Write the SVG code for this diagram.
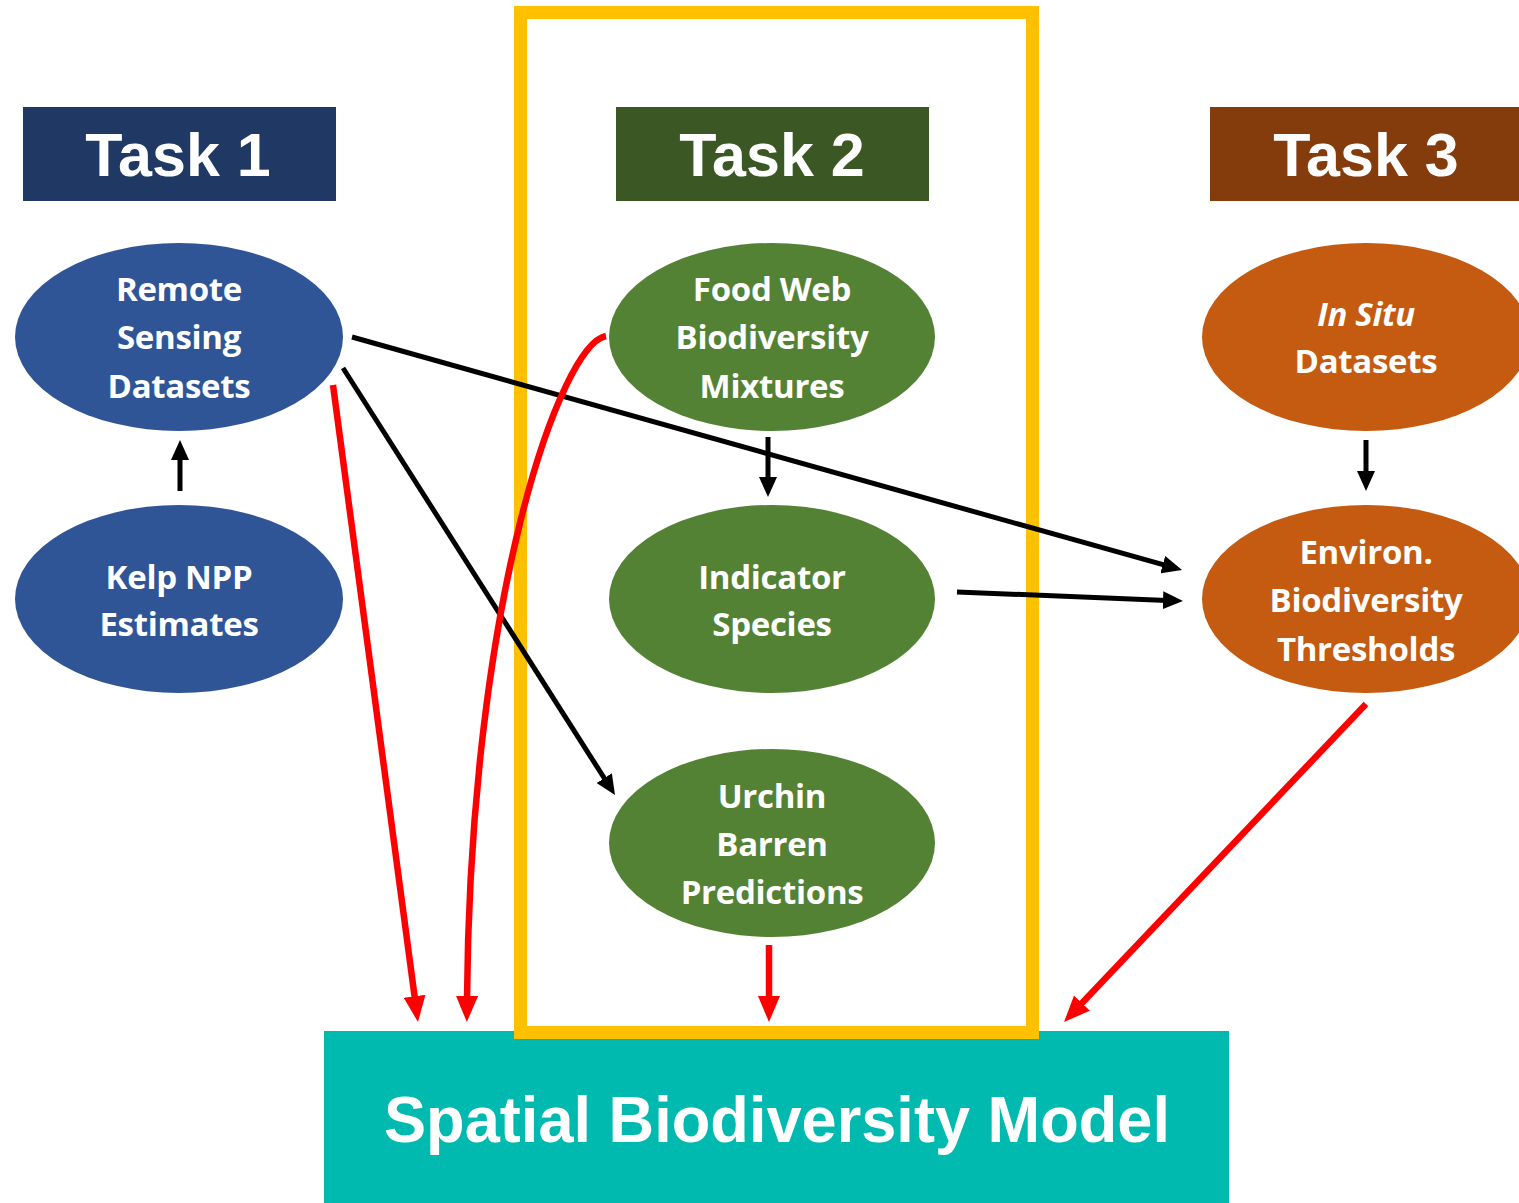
<svg xmlns="http://www.w3.org/2000/svg" width="1519" height="1203" viewBox="0 0 1519 1203">
  <style>
    .hdr { font-family: "Liberation Sans", Arial, sans-serif; font-weight: bold; font-size: 61px; fill: #fff; text-anchor: middle; }
    .lbl { font-family: "Open Sans", "Liberation Sans", sans-serif; font-weight: bold; font-size: 33px; fill: #fff; text-anchor: middle; letter-spacing: -0.3px; }
    .blue { fill: #2F5597; }
    .green { fill: #548235; }
    .orange { fill: #C55A11; }
    .blk { stroke: #000; stroke-width: 5; fill: none; marker-end: url(#ahBlack); }
    .red { stroke: #FF0000; stroke-width: 6.5; fill: none; marker-end: url(#ahRed); }
  </style>
  <defs>
    <marker id="ahBlack" markerUnits="userSpaceOnUse" markerWidth="20" markerHeight="18" refX="4" refY="9" orient="auto">
      <path d="M0,0 L20,9 L0,18 z" fill="#000"/>
    </marker>
    <marker id="ahRed" markerUnits="userSpaceOnUse" markerWidth="26" markerHeight="22" refX="4" refY="11" orient="auto">
      <path d="M0,0 L26,11 L0,22 z" fill="#FF0000"/>
    </marker>
  </defs>

  <rect width="1519" height="1203" fill="#fff"/>

  <!-- output model box -->
  <g id="model">
    <rect x="324" y="1031" width="905" height="172" fill="#00BAB0"/>
    <text x="777" y="1142" font-family="'Liberation Sans', Arial, sans-serif" font-weight="bold" font-size="64" fill="#fff" text-anchor="middle" textLength="786" lengthAdjust="spacingAndGlyphs">Spatial Biodiversity Model</text>
  </g>

  <!-- Task 2 highlight frame -->
  <rect id="task2-frame" x="520.5" y="12.5" width="512" height="1020" fill="none" stroke="#FFC000" stroke-width="13"/>

  <!-- task headers -->
  <g id="task1">
    <rect x="23" y="107" width="313" height="94" fill="#1F3864"/>
    <text class="hdr" x="178" y="176">Task 1</text>
  </g>
  <g id="task2">
    <rect x="616" y="107" width="313" height="94" fill="#3A5724"/>
    <text class="hdr" x="772" y="176">Task 2</text>
  </g>
  <g id="task3">
    <rect x="1210" y="107" width="309" height="94" fill="#843C0C"/>
    <text class="hdr" x="1366" y="176">Task 3</text>
  </g>

  <!-- Task 1 nodes -->
  <g id="remote-sensing">
    <ellipse class="blue" cx="179" cy="337" rx="164" ry="94"/>
    <text class="lbl" x="179" y="301">Remote</text>
    <text class="lbl" x="179" y="349">Sensing</text>
    <text class="lbl" x="179" y="398">Datasets</text>
  </g>
  <g id="kelp-npp">
    <ellipse class="blue" cx="179" cy="599" rx="164" ry="94"/>
    <text class="lbl" x="179" y="589">Kelp NPP</text>
    <text class="lbl" x="179" y="636">Estimates</text>
  </g>

  <!-- Task 2 nodes -->
  <g id="food-web">
    <ellipse class="green" cx="772" cy="337" rx="163" ry="94"/>
    <text class="lbl" x="772" y="301">Food Web</text>
    <text class="lbl" x="772" y="349">Biodiversity</text>
    <text class="lbl" x="772" y="398">Mixtures</text>
  </g>
  <g id="indicator">
    <ellipse class="green" cx="772" cy="599" rx="163" ry="94"/>
    <text class="lbl" x="772" y="589">Indicator</text>
    <text class="lbl" x="772" y="636">Species</text>
  </g>
  <g id="urchin">
    <ellipse class="green" cx="772" cy="843" rx="163" ry="94"/>
    <text class="lbl" x="772" y="808">Urchin</text>
    <text class="lbl" x="772" y="856">Barren</text>
    <text class="lbl" x="772" y="904">Predictions</text>
  </g>

  <!-- Task 3 nodes -->
  <g id="in-situ">
    <ellipse class="orange" cx="1366" cy="337" rx="164" ry="94"/>
    <text class="lbl" x="1366" y="326" font-style="italic">In Situ</text>
    <text class="lbl" x="1366" y="373">Datasets</text>
  </g>
  <g id="thresholds">
    <ellipse class="orange" cx="1366" cy="599" rx="164" ry="94"/>
    <text class="lbl" x="1366" y="564">Environ.</text>
    <text class="lbl" x="1366" y="612">Biodiversity</text>
    <text class="lbl" x="1366" y="661">Thresholds</text>
  </g>

  <!-- connectors -->
  <g id="connectors">
    <line class="blk" x1="180" y1="491" x2="180" y2="456"/>
    <line class="blk" x1="768" y1="437" x2="768" y2="481"/>
    <line class="blk" x1="1366" y1="440" x2="1366" y2="475"/>
    <line class="blk" x1="352" y1="337" x2="1166.6" y2="565.7"/>
    <line class="blk" x1="957" y1="592" x2="1167" y2="600.4"/>
    <line class="blk" x1="343" y1="368" x2="606.4" y2="781.5"/>

    <line class="red" x1="333" y1="385" x2="415.1" y2="1000.2"/>
    <path class="red" d="M606,336 C560,345 470,600 467,1000"/>
    <line class="red" x1="769" y1="945" x2="769" y2="1000"/>
    <line class="red" x1="1366" y1="704" x2="1079.2" y2="1006"/>
  </g>
</svg>
